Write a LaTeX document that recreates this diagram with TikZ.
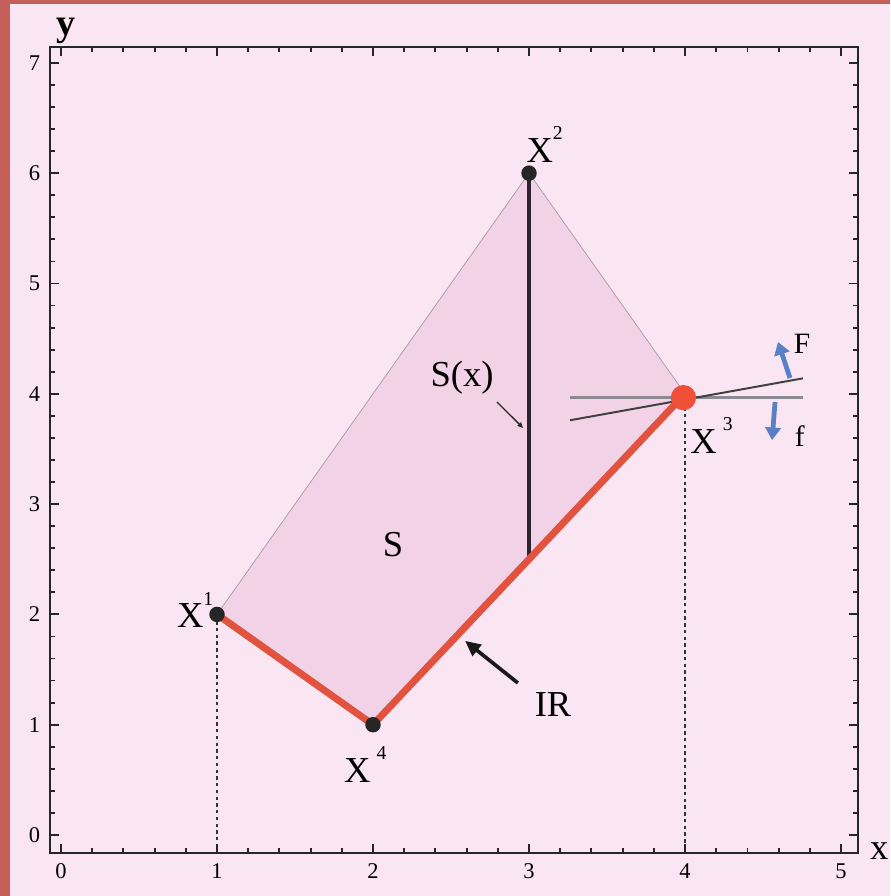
\documentclass[tikz,border=0pt]{standalone}
\usepackage{fontspec}
\setmainfont{Liberation Serif}
\usetikzlibrary{arrows.meta}
\definecolor{bgpink}{HTML}{F9E6F2}
\definecolor{polypink}{HTML}{F2D2E7}
\definecolor{bordred}{HTML}{C45F5A}
\definecolor{irred}{HTML}{E2533F}
\definecolor{dotred}{HTML}{EF5038}
\definecolor{edgegray}{HTML}{A898A2}
\definecolor{darkline}{HTML}{2B2330}
\definecolor{arrblue}{HTML}{5B7FC6}
\definecolor{hgray}{HTML}{8C8A92}
\tikzset{
  blackdot/.style={circle,fill=black!85,inner sep=0pt,minimum size=11pt},
  reddot/.style={circle,fill=dotred,inner sep=0pt,minimum size=18pt},
  ptlabel/.style={font=\fontsize{26}{28}\selectfont,inner sep=0pt},
  ticklabel/.style={font=\fontsize{16}{18}\selectfont,inner sep=0pt},
  axlabel/.style={font=\fontsize{27}{29}\selectfont\bfseries,inner sep=0pt},
  smalllabel/.style={font=\fontsize{21}{23}\selectfont,inner sep=0pt},
  framestyle/.style={line width=1.5pt,black!85},
  tickstyle/.style={line width=1.3pt,black!85},
  dropline/.style={line width=1.6pt,black!80,dash pattern=on 2.4pt off 2.4pt},
  irline/.style={line width=5pt,irred},
  bluearrow/.style={line width=3.4pt,arrblue,-{Triangle[length=9pt,width=11pt]}},
}
\newcommand{\supr}[1]{\raisebox{0.62em}{\fontsize{14}{14}\selectfont #1}}
\begin{document}
\begin{tikzpicture}[x=3.9cm,y=2.7575cm]
\useasboundingbox (-0.391,-0.553) rectangle (5.314,7.570);
\fill[bgpink] (-0.391,-0.553) rectangle (5.314,7.570);
\fill[bordred] (-0.391,-0.553) rectangle (-0.327,7.570);
\fill[bordred] (-0.391,7.534) rectangle (5.314,7.570);

% points
\coordinate (X1) at (1,2);
\coordinate (X2) at (3,6);
\coordinate (X3) at (4,4);
\coordinate (X4) at (2,1);
\coordinate (P) at (3,2.5);
\coordinate (B1) at (1,-0.163);
\coordinate (B3) at (4,-0.163);

% region S
\fill[polypink] (X1) -- (X2) -- (X3) -- (X4) -- cycle;
\draw[edgegray,line width=0.5pt] (X1) -- (X2) -- (X3);

% drop lines
\draw[dropline] (X1) -- (B1);
\draw[dropline] (X3) -- (B3);

% frame and ticks
\draw[framestyle] (-0.0705,-0.163) rectangle (5.109,7.144);
\foreach \i in {0,...,25} {
  \pgfmathsetmacro{\xx}{\i*0.2}
  \pgfmathtruncatemacro{\maj}{mod(\i,5)==0 ? 1 : 0}
  \pgfmathsetmacro{\tl}{\maj==1 ? 0.082 : 0.045}
  \draw[tickstyle] (\xx,-0.163) -- ++(0,\tl);
  \draw[tickstyle] (\xx,7.144) -- ++(0,-\tl);
}
\foreach \i in {0,...,35} {
  \pgfmathsetmacro{\yy}{\i*0.2}
  \pgfmathtruncatemacro{\maj}{mod(\i,5)==0 ? 1 : 0}
  \pgfmathsetmacro{\tl}{\maj==1 ? 0.058 : 0.032}
  \draw[tickstyle] (-0.0705,\yy) -- ++(\tl,0);
  \draw[tickstyle] (5.109,\yy) -- ++(-\tl,0);
}
\foreach \k in {0,...,5} \node[ticklabel] (tx\k) at (\k,-0.33) {\k};
\foreach \k in {0,...,7} \node[ticklabel] (ty\k) at (-0.17,\k) {\k};
\node[axlabel] (ylab) at (0.03,7.29) {y};
\node[axlabel,font=\fontsize{26}{28}\selectfont] (xlab) at (5.245,-0.15) {x};

% segment S(x)
\draw[darkline,line width=2.8pt] (X2) -- (P);

% IR
\draw[irline] (X1) -- (X4) -- (X3);

% supporting lines at X3
\coordinate (HL) at (3.263,3.965);
\coordinate (HR) at (4.756,3.965);
\coordinate (TL) at (3.263,3.76);
\coordinate (TR) at (4.756,4.14);
\draw[hgray,line width=1.8pt] (HL) -- (HR);
\draw[black!75,line width=1.4pt] (TL) -- (TR);

% dots
\node[blackdot] (d1) at (X1) {};
\node[blackdot] (d2) at (X2) {};
\node[blackdot] (d4) at (X4) {};
\node[reddot] (d3) at (3.99,3.965) {};

% F and f arrows
\coordinate (Fs) at (4.673,4.143);
\coordinate (Fe) at (4.596,4.47);
\coordinate (fs) at (4.577,3.926);
\coordinate (fe) at (4.558,3.58);
\draw[bluearrow] (Fs) -- (Fe);
\draw[bluearrow] (fs) -- (fe);
\node[smalllabel] (Flab) at (4.75,4.45) {F};
\node[smalllabel] (flab) at (4.735,3.62) {f};

% labels
\node[ptlabel] (L1) at (0.86,2.04) {X\supr{1}};
\node[ptlabel] (L2) at (3.10,6.26) {X\supr{2}};
\node[ptlabel] (L3) at (4.17,3.62) {X\,\supr{3}};
\node[ptlabel] (L4) at (1.95,0.64) {X\,\supr{4}};
\node[ptlabel] (Slab) at (2.128,2.63) {S};
\node[ptlabel] (Sx) at (2.571,4.15) {S(x)};
\node[ptlabel] (IR) at (3.154,1.18) {IR};

% pointer arrows
\coordinate (sxs) at (2.795,3.926);
\coordinate (sxe) at (2.962,3.69);
\draw[black!85,line width=0.9pt,-{Triangle[length=4pt,width=3.5pt]}] (sxs) -- (sxe);
\coordinate (irs) at (2.929,1.378);
\coordinate (ire) at (2.59,1.76);
\draw[black!90,line width=2.6pt,-{Triangle[length=11pt,width=10pt]}] (irs) -- (ire);
\end{tikzpicture}
\end{document}
